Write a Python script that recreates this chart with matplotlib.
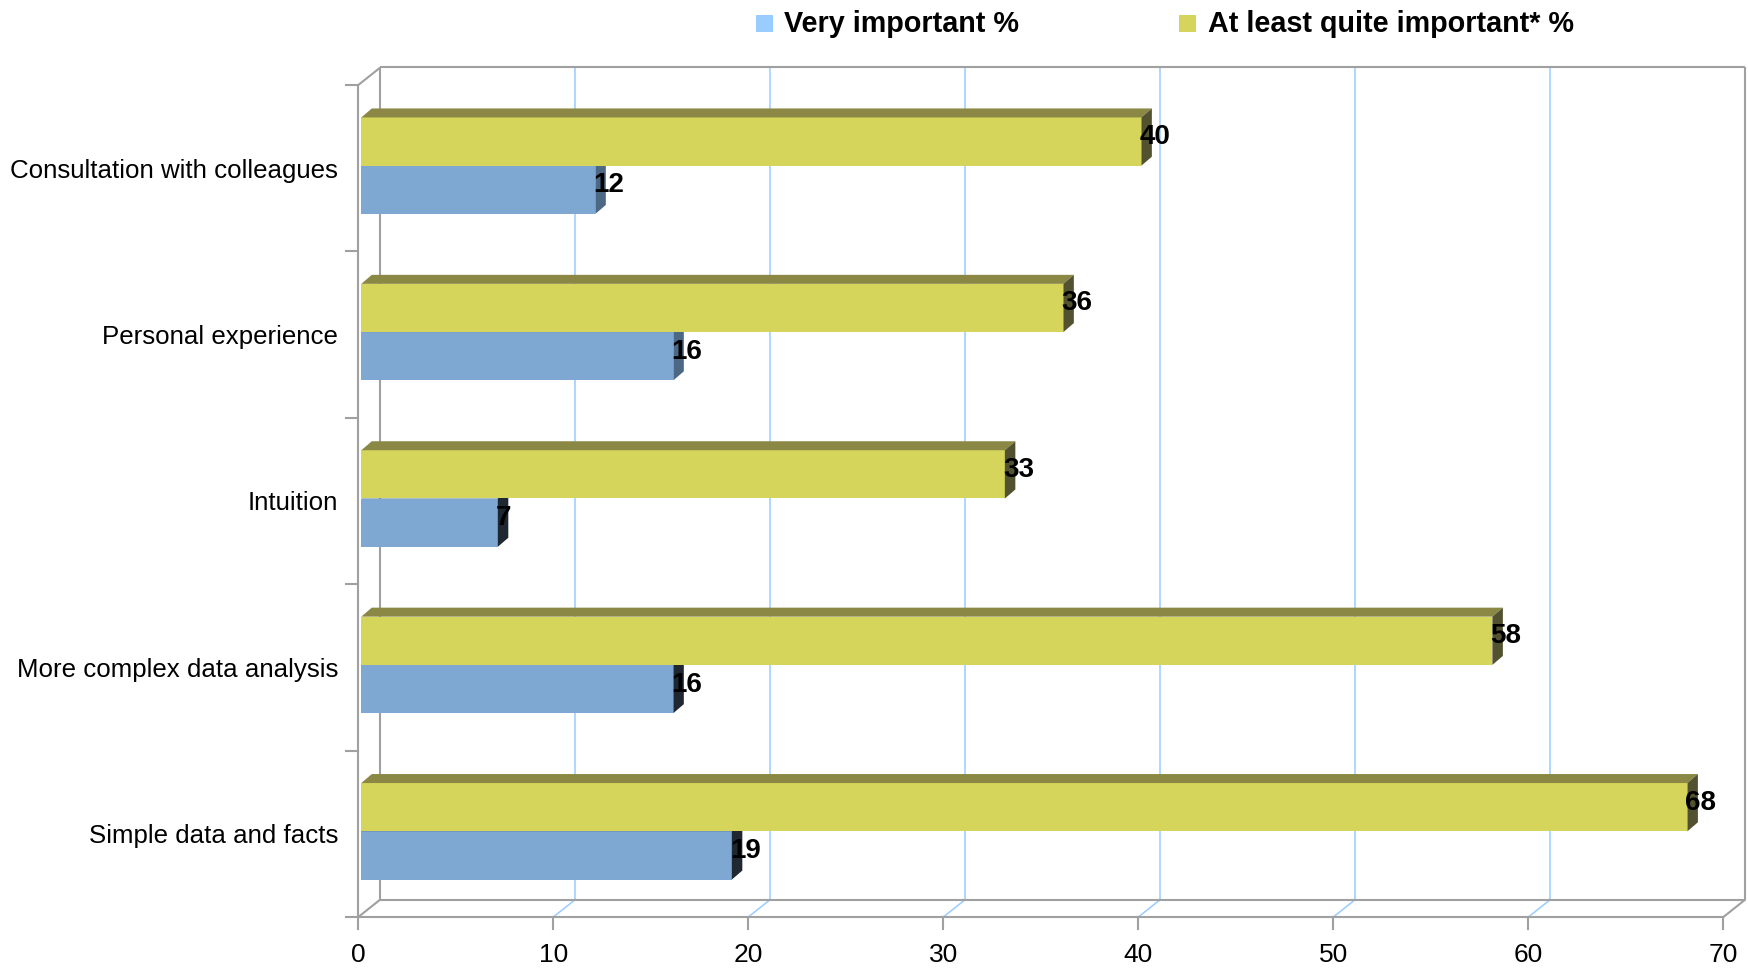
import numpy as np
import matplotlib
matplotlib.use("Agg")
import matplotlib.pyplot as plt
from matplotlib.patches import Polygon, Rectangle

categories = ["Simple data and facts", "More complex data analysis", "Intuition",
              "Personal experience", "Consultation with colleagues"]
very_important = [19, 16, 7, 16, 12]
quite_important = [68, 58, 33, 36, 40]
x_ticks = [0, 10, 20, 30, 40, 50, 60, 70]
series_names = ["Very important %", "At least quite important* %"]

W, H = 1749, 972
DPI = 100
XMAX = 70
N = len(categories)

# front plane of the box, in pixels
AX_L, AX_R = 358.3, 1723.4
AX_T, AX_B = 85.0, 917.0
WALL_DX, WALL_DY = 22.0, 17.5      # offset of the back wall
BAR_DX, BAR_DY = 3.0, 2.5          # bars sit a little behind the front plane
DEPTH_DX, DEPTH_DY = 10.5, 9.0     # bar depth
BAR_H = 0.29

plt.rcParams["font.family"] = ["Liberation Sans", "DejaVu Sans"]

fig = plt.figure(figsize=(W / DPI, H / DPI), dpi=DPI)
ax = fig.add_axes([AX_L / W, (H - AX_B) / H, (AX_R - AX_L) / W, (AX_B - AX_T) / H])
ax.set_xlim(0, XMAX)
ax.set_ylim(-0.5, N - 0.5)
ax.axis("off")

sx = XMAX / (AX_R - AX_L)
sy = N / (AX_B - AX_T)


def off(dx, dy):
    return dx * sx, dy * sy


grid_col = "#99ccff"
edge_col = "#a0a0a0"
wx, wy = off(WALL_DX, WALL_DY)
lo, hi = -0.5, N - 0.5

# back wall grid and floor grid
for v in x_ticks[1:-1]:
    ax.plot([v + wx, v + wx], [lo + wy, hi + wy], color=grid_col, lw=1.1, clip_on=False, zorder=1)
    ax.plot([v, v + wx], [lo, lo + wy], color=grid_col, lw=1.1, clip_on=False, zorder=1)

# box edges
box = [
    ([0, XMAX], [lo, lo]),
    ([wx, XMAX + wx], [lo + wy, lo + wy]),
    ([0, wx], [lo, lo + wy]),
    ([XMAX, XMAX + wx], [lo, lo + wy]),
    ([wx, wx], [lo + wy, hi + wy]),
    ([XMAX + wx, XMAX + wx], [lo + wy, hi + wy]),
    ([wx, XMAX + wx], [hi + wy, hi + wy]),
    ([0, 0], [lo, hi]),
    ([0, wx], [hi, hi + wy]),
]
for xs, ys in box:
    ax.plot(xs, ys, color=edge_col, lw=1.5, clip_on=False, zorder=2, solid_capstyle="butt")

# ticks
tick_len_y = 12 * sy
tick_len_x = 12 * sx
for v in x_ticks:
    ax.plot([v, v], [lo, lo - tick_len_y], color=edge_col, lw=1.5, clip_on=False, zorder=2)
    ax.text(v, lo - 26 * sy, str(v), ha="center", va="top", fontsize=19, clip_on=False)
for b in np.arange(N + 1) - 0.5:
    ax.plot([0, -tick_len_x], [b, b], color=edge_col, lw=1.5, clip_on=False, zorder=2)
for i, name in enumerate(categories):
    ax.text(-20 * sx, i - 2.5 * sy, name, ha="right", va="center", fontsize=18.6, clip_on=False)

# 3D bars
bx, by = off(BAR_DX, BAR_DY)
dx, dy = off(DEPTH_DX, DEPTH_DY)
blue_front, blue_top = "#7ea7d1", "#5d7b9a"
blue_sides = ["#1f2730", "#1f2730", "#1f2730", "#4c6885", "#4c6885"]
yel_front, yel_top, yel_side = "#d5d55c", "#8a8844", "#525230"


def bar3d(y0, val, front, top, side, z):
    x0 = bx
    y0 = y0 + by
    y1 = y0 + BAR_H
    ax.add_patch(Rectangle((x0, y0), val, BAR_H, facecolor=front, edgecolor="none", zorder=z, clip_on=False))
    ax.add_patch(Polygon([(x0, y1), (x0 + val, y1), (x0 + val + dx, y1 + dy), (x0 + dx, y1 + dy)],
                         closed=True, facecolor=top, edgecolor="none", zorder=z, clip_on=False))
    ax.add_patch(Polygon([(x0 + val, y0), (x0 + val + dx, y0 + dy), (x0 + val + dx, y1 + dy), (x0 + val, y1)],
                         closed=True, facecolor=side, edgecolor="none", zorder=z, clip_on=False))
    ax.text(x0 + val - 2 * sx, (y0 + y1) / 2 + dy / 2, str(val), ha="left", va="center",
            fontsize=20, fontweight="bold", clip_on=False, zorder=20)


# the upper (yellow) bar of each pair hides the top of the blue one
for i in range(N):
    bar3d(i - BAR_H, very_important[i], blue_front, blue_top, blue_sides[i], 3 + i * 2)
    bar3d(i, quite_important[i], yel_front, yel_top, yel_side, 4 + i * 2)

# legend
leg_y = 24
for px_sq, px_txt, col, name in [(756, 784, "#99ccff", series_names[0]),
                                  (1179, 1208, "#d5d55c", series_names[1])]:
    fig.patches.append(Rectangle((px_sq / W, 1 - (leg_y + 8.5) / H), 17 / W, 17 / H,
                                 facecolor=col, edgecolor="none", transform=fig.transFigure))
    fig.text(px_txt / W, 1 - leg_y / H, name, ha="left", va="center", fontsize=20.7, fontweight="bold")

fig.savefig("out.png", dpi=DPI)
